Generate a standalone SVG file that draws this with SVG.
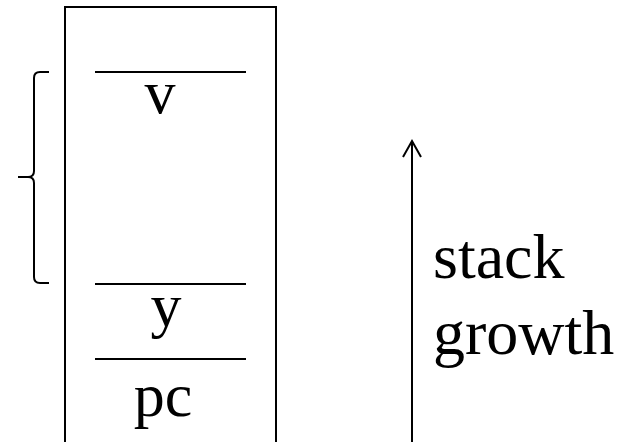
<svg xmlns="http://www.w3.org/2000/svg" width="629" height="442" viewBox="0 0 629 442">
<style>
.ln{stroke:#000;stroke-width:2;fill:none}
.t{font-family:"Liberation Serif","Times New Roman",serif;font-size:62px;fill:#000}
.r{font-size:64px}
.c{text-anchor:middle}
</style>
<rect width="629" height="442" fill="#fff"/>
<g id="stack">
<path class="ln" d="M65,450 V7 H276 V450"/>
</g>
<g id="slot-v">
<line class="ln" x1="95" y1="72" x2="246" y2="72"/>
<text class="t c" x="160" y="113">v</text>
</g>
<g id="slot-y">
<line class="ln" x1="95" y1="284" x2="246" y2="284"/>
<text class="t c" x="166" y="326">y</text>
</g>
<g id="slot-pc">
<line class="ln" x1="95" y1="359" x2="246" y2="359"/>
<text class="t c" x="163" y="416">pc</text>
</g>
<g id="brace">
<path class="ln" d="M49,72 H40 Q34,72 34,78 V171 Q34,177 28,177 H18 M28,177 Q34,177 34,183 V277 Q34,283 40,283 H49" stroke-width="1.5"/>
</g>
<g id="connectors">
<line class="ln" x1="412" y1="442" x2="412" y2="141"/>
<path class="ln" d="M403,157 L412,141 L421,157" stroke-width="1.5"/>
</g>
<g id="label">
<text class="t r" x="433" y="278">stack</text>
<text class="t r" x="433" y="354">growth</text>
</g>
</svg>
